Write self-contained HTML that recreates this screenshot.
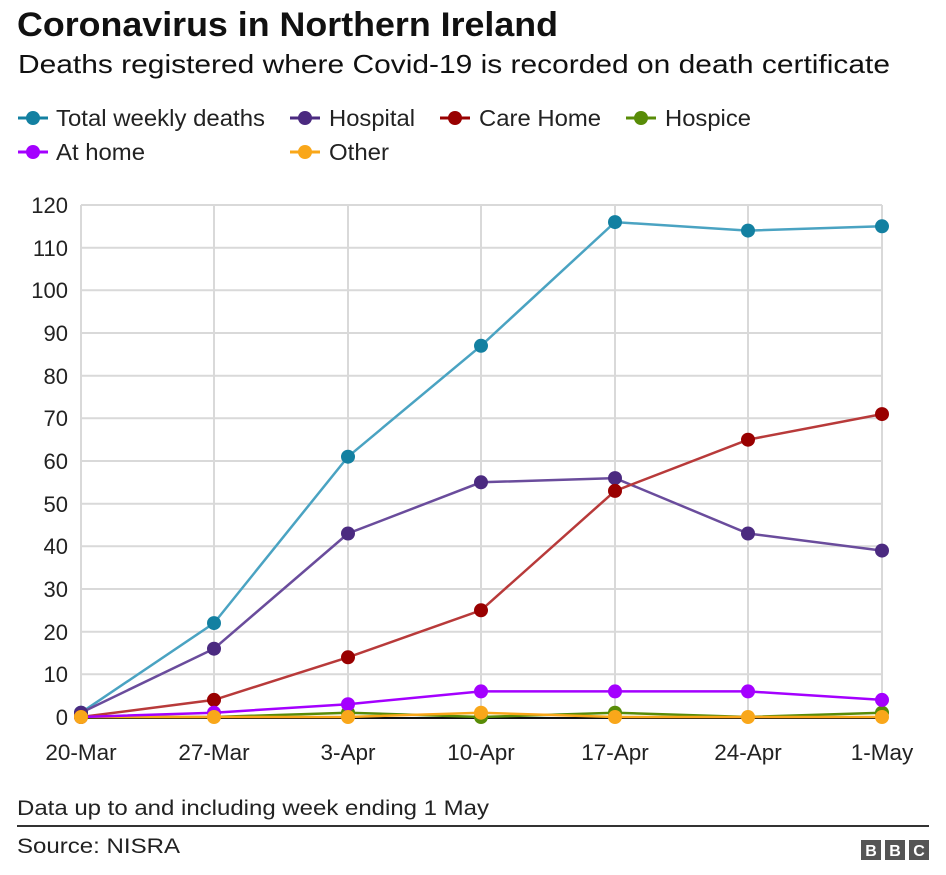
<!DOCTYPE html>
<html><head><meta charset="utf-8"><style>
body{margin:0;background:#fff;width:946px;height:870px;overflow:hidden;font-family:"Liberation Sans",Arial,sans-serif;}
</style></head><body>
<svg width="946" height="870" xmlns="http://www.w3.org/2000/svg" font-family="Liberation Sans, Arial, sans-serif">
<text x="17" y="36" font-size="34" font-weight="bold" fill="#111" textLength="541" lengthAdjust="spacingAndGlyphs">Coronavirus in Northern Ireland</text>
<text x="18" y="73" font-size="26" fill="#111" textLength="872" lengthAdjust="spacingAndGlyphs">Deaths registered where Covid-19 is recorded on death certificate</text>
<g font-size="23" fill="#222">
<line x1="18" y1="118" x2="48" y2="118" stroke="#1380a1" stroke-width="3"/><circle cx="33" cy="118" r="7" fill="#1380a1"/><text x="56" y="126" textLength="209" lengthAdjust="spacingAndGlyphs">Total weekly deaths</text>
<line x1="290" y1="118" x2="320" y2="118" stroke="#4b2a80" stroke-width="3"/><circle cx="305" cy="118" r="7" fill="#4b2a80"/><text x="329" y="126" textLength="86" lengthAdjust="spacingAndGlyphs">Hospital</text>
<line x1="440" y1="118" x2="470" y2="118" stroke="#990000" stroke-width="3"/><circle cx="455" cy="118" r="7" fill="#990000"/><text x="479" y="126" textLength="122" lengthAdjust="spacingAndGlyphs">Care Home</text>
<line x1="626" y1="118" x2="656" y2="118" stroke="#588c07" stroke-width="3"/><circle cx="641" cy="118" r="7" fill="#588c07"/><text x="665" y="126" textLength="86" lengthAdjust="spacingAndGlyphs">Hospice</text>
<line x1="18" y1="152" x2="48" y2="152" stroke="#a400ff" stroke-width="3"/><circle cx="33" cy="152" r="7" fill="#a400ff"/><text x="56" y="160" textLength="89" lengthAdjust="spacingAndGlyphs">At home</text>
<line x1="290" y1="152" x2="320" y2="152" stroke="#f9a71a" stroke-width="3"/><circle cx="305" cy="152" r="7" fill="#f9a71a"/><text x="329" y="160" textLength="60" lengthAdjust="spacingAndGlyphs">Other</text>
</g>
<g stroke="#d9d9d9" stroke-width="2">
<line x1="81" y1="205" x2="882" y2="205"/><line x1="81" y1="247.7" x2="882" y2="247.7"/><line x1="81" y1="290.3" x2="882" y2="290.3"/><line x1="81" y1="333" x2="882" y2="333"/><line x1="81" y1="375.7" x2="882" y2="375.7"/><line x1="81" y1="418.3" x2="882" y2="418.3"/><line x1="81" y1="461" x2="882" y2="461"/><line x1="81" y1="503.7" x2="882" y2="503.7"/><line x1="81" y1="546.3" x2="882" y2="546.3"/><line x1="81" y1="589" x2="882" y2="589"/><line x1="81" y1="631.7" x2="882" y2="631.7"/><line x1="81" y1="674.3" x2="882" y2="674.3"/>
<line x1="81" y1="205" x2="81" y2="717"/><line x1="214" y1="205" x2="214" y2="717"/><line x1="348" y1="205" x2="348" y2="717"/><line x1="481" y1="205" x2="481" y2="717"/><line x1="615" y1="205" x2="615" y2="717"/><line x1="748" y1="205" x2="748" y2="717"/><line x1="882" y1="205" x2="882" y2="717"/>
</g>
<line x1="81" y1="718" x2="882" y2="718" stroke="#111" stroke-width="2"/>
<g font-size="22" fill="#222" text-anchor="end">
<text x="68" y="213">120</text><text x="68" y="256">110</text><text x="68" y="298">100</text><text x="68" y="341">90</text><text x="68" y="384">80</text><text x="68" y="426">70</text><text x="68" y="469">60</text><text x="68" y="512">50</text><text x="68" y="554">40</text><text x="68" y="597">30</text><text x="68" y="640">20</text><text x="68" y="682">10</text><text x="68" y="725">0</text>
</g>
<g font-size="22.5" fill="#222" text-anchor="middle">
<text x="81" y="760">20-Mar</text><text x="214" y="760">27-Mar</text><text x="348" y="760">3-Apr</text><text x="481" y="760">10-Apr</text><text x="615" y="760">17-Apr</text><text x="748" y="760">24-Apr</text><text x="882" y="760">1-May</text>
</g>
<g fill="none" stroke-width="2.5">
<polyline stroke="#4aa3c2" points="81,712.7 214,623.1 348,456.7 481,345.8 615,222.1 748,230.6 882,226.3"/>
<polyline stroke="#6a4c9c" points="81,712.7 214,648.7 348,533.5 481,482.3 615,478.1 748,533.5 882,550.6"/>
<polyline stroke="#b83a3a" points="81,717 214,699.9 348,657.3 481,610.3 615,490.9 748,439.7 882,414.1"/>
<polyline stroke="#588c07" points="81,717 214,717 348,712.7 481,717 615,712.7 748,717 882,712.7"/>
<polyline stroke="#f9a71a" points="81,717 214,717 348,717 481,712.7 615,717 748,717 882,717"/>
<polyline stroke="#a400ff" points="81,717 214,712.7 348,704.2 481,691.4 615,691.4 748,691.4 882,699.9"/>
</g>
<g fill="#588c07"><circle cx="348" cy="712.7" r="7"/><circle cx="481" cy="717" r="7"/><circle cx="615" cy="712.7" r="7"/><circle cx="882" cy="712.7" r="7"/></g>
<g fill="#1380a1"><circle cx="81" cy="712.7" r="7"/><circle cx="214" cy="623.1" r="7"/><circle cx="348" cy="456.7" r="7"/><circle cx="481" cy="345.8" r="7"/><circle cx="615" cy="222.1" r="7"/><circle cx="748" cy="230.6" r="7"/><circle cx="882" cy="226.3" r="7"/></g>
<g fill="#4b2a80"><circle cx="81" cy="712.7" r="7"/><circle cx="214" cy="648.7" r="7"/><circle cx="348" cy="533.5" r="7"/><circle cx="481" cy="482.3" r="7"/><circle cx="615" cy="478.1" r="7"/><circle cx="748" cy="533.5" r="7"/><circle cx="882" cy="550.6" r="7"/></g>
<g fill="#990000"><circle cx="81" cy="717" r="7"/><circle cx="214" cy="699.9" r="7"/><circle cx="348" cy="657.3" r="7"/><circle cx="481" cy="610.3" r="7"/><circle cx="615" cy="490.9" r="7"/><circle cx="748" cy="439.7" r="7"/><circle cx="882" cy="414.1" r="7"/></g>
<g fill="#a400ff"><circle cx="214" cy="712.7" r="7"/><circle cx="348" cy="704.2" r="7"/><circle cx="481" cy="691.4" r="7"/><circle cx="615" cy="691.4" r="7"/><circle cx="748" cy="691.4" r="7"/><circle cx="882" cy="699.9" r="7"/></g>
<g fill="#f9a71a"><circle cx="81" cy="717" r="7"/><circle cx="214" cy="717" r="7"/><circle cx="348" cy="717" r="7"/><circle cx="481" cy="712.7" r="7"/><circle cx="615" cy="717" r="7"/><circle cx="748" cy="717" r="7"/><circle cx="882" cy="717" r="7"/></g>
<text x="17" y="815" font-size="21" fill="#222" textLength="472" lengthAdjust="spacingAndGlyphs">Data up to and including week ending 1 May</text>
<line x1="17" y1="826" x2="929" y2="826" stroke="#333" stroke-width="2"/>
<text x="17" y="853" font-size="21" fill="#222" textLength="163" lengthAdjust="spacingAndGlyphs">Source: NISRA</text>
<g font-size="16" font-weight="bold" fill="#fff" text-anchor="middle">
<rect x="861" y="840" width="20" height="20" fill="#555"/><text x="871" y="856">B</text>
<rect x="885" y="840" width="20" height="20" fill="#555"/><text x="895" y="856">B</text>
<rect x="909" y="840" width="20" height="20" fill="#555"/><text x="919" y="856">C</text>
</g>
</svg>
</body></html>
